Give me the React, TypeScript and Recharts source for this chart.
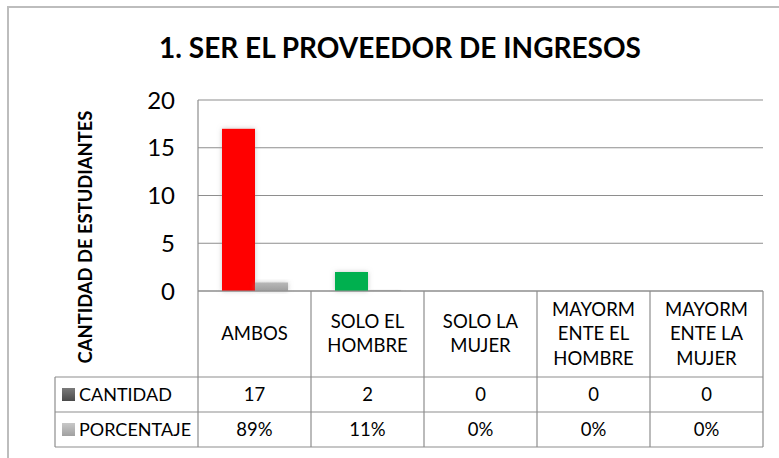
import React from "react";
import { BarChart, Bar, XAxis, YAxis, CartesianGrid, Cell } from "recharts";

// ---- data ----
const title = "1. SER EL PROVEEDOR DE INGRESOS";
const yAxisTitle = "CANTIDAD DE ESTUDIANTES";
const categories = ["AMBOS", "SOLO EL HOMBRE", "SOLO LA MUJER", "MAYORMENTE EL HOMBRE", "MAYORMENTE LA MUJER"];
const categoryLines = [
  ["AMBOS"],
  ["SOLO EL", "HOMBRE"],
  ["SOLO LA", "MUJER"],
  ["MAYORM", "ENTE EL", "HOMBRE"],
  ["MAYORM", "ENTE LA", "MUJER"],
];
const seriesNames = ["CANTIDAD", "PORCENTAJE"];
const cantidad = [17, 2, 0, 0, 0];
const porcentaje = [0.89, 0.11, 0, 0, 0];
const porcentajeLabels = ["89%", "11%", "0%", "0%", "0%"];
const cantidadColors = ["#FF0000", "#00B050", "#FF0000", "#FF0000", "#FF0000"];
const yTicks = [0, 5, 10, 15, 20];

const data = categories.map((c, i) => ({ name: c, cantidad: cantidad[i], porcentaje: porcentaje[i] }));

// ---- layout ----
const W = 779;
const H = 458;
const PLOT_LEFT = 198;
const PLOT_RIGHT = 763;
const PLOT_TOP = 100;
const PLOT_BOTTOM = 291;
const TABLE_LEFT = 55;
const BAND = (PLOT_RIGHT - PLOT_LEFT) / categories.length;
const HEADER_H = 86;
const ROW_H = 35;
const FONT = "Lato, 'Open Sans', sans-serif";
const LINE = "#8E8E8E";

function CategoryTick(props: any) {
  const { x, y, payload } = props;
  const index: number = props.index ?? payload?.index ?? 0;
  const left = x - BAND / 2;
  const right = x + BAND / 2;
  const top = y;
  const lines = categoryLines[index] || [];
  const lh = 24.5;
  const headerCenter = top + HEADER_H / 2 - 0.5;
  const start = headerCenter - ((lines.length - 1) * lh) / 2;
  const row1 = top + HEADER_H + ROW_H / 2;
  const row2 = top + HEADER_H + ROW_H * 1.5;
  const bottom = top + HEADER_H + ROW_H * 2;
  const textProps = { fontFamily: FONT, fontSize: 18.5, fill: "#000", textAnchor: "middle" as const, dy: "0.36em" };
  return (
    <g>
      <line x1={left} x2={left} y1={top} y2={bottom} stroke={LINE} strokeWidth={1.2} />
      {index === categories.length - 1 && (
        <line x1={right} x2={right} y1={top} y2={bottom} stroke={LINE} strokeWidth={1.2} />
      )}
      {index === 0 && (
        <g>
          <line x1={TABLE_LEFT} x2={PLOT_RIGHT} y1={top + HEADER_H} y2={top + HEADER_H} stroke={LINE} strokeWidth={1.2} />
          <line x1={TABLE_LEFT} x2={PLOT_RIGHT} y1={top + HEADER_H + ROW_H} y2={top + HEADER_H + ROW_H} stroke={LINE} strokeWidth={1.2} />
          <line x1={TABLE_LEFT} x2={PLOT_RIGHT} y1={bottom} y2={bottom} stroke={LINE} strokeWidth={1.2} />
          <line x1={TABLE_LEFT} x2={TABLE_LEFT} y1={top + HEADER_H} y2={bottom} stroke={LINE} strokeWidth={1.2} />
          <rect x={TABLE_LEFT + 7} y={row1 - 6.5} width={13} height={13} fill="url(#legDark)" />
          <rect x={TABLE_LEFT + 7} y={row2 - 6.5} width={13} height={13} fill="url(#legLight)" />
          <text x={TABLE_LEFT + 24} y={row1} dy="0.36em" fontFamily={FONT} fontSize={18} fill="#000">{seriesNames[0]}</text>
          <text x={TABLE_LEFT + 24} y={row2} dy="0.36em" fontFamily={FONT} fontSize={18} fill="#000">{seriesNames[1]}</text>
        </g>
      )}
      {lines.map((l, k) => (
        <text key={k} x={x} y={start + k * lh} {...textProps}>{l}</text>
      ))}
      <text x={x} y={row1} {...textProps}>{cantidad[index]}</text>
      <text x={x} y={row2} {...textProps}>{porcentajeLabels[index]}</text>
    </g>
  );
}

export default function App() {
  return (
    <div style={{ position: "absolute", left: 0, top: 0, width: W, height: H, background: "#fff", overflow: "hidden" }}>
      <svg width={W} height={H} style={{ position: "absolute", left: 0, top: 0 }}>
        <rect x={8} y={7} width={W + 20} height={H + 20} fill="#fff" stroke="#BDBDBD" strokeWidth={2} />
        <text x={400} y={58} textAnchor="middle" fontFamily={FONT} fontWeight={700} fontSize={28} fill="#000">{title}</text>
        <text
          x={85}
          y={237}
          dy="0.36em"
          transform="rotate(-90, 85, 237)"
          textAnchor="middle"
          fontFamily={FONT}
          fontWeight={700}
          fontSize={18.4}
          fill="#000"
        >
          {yAxisTitle}
        </text>
      </svg>
      <div style={{ position: "absolute", left: 0, top: 0 }}>
        <BarChart
          width={W}
          height={H}
          data={data}
          margin={{ top: PLOT_TOP, right: W - PLOT_RIGHT, bottom: 10, left: PLOT_LEFT - 60 }}
          barCategoryGap={24}
          barGap={0}
        >
          <defs>
            <linearGradient id="grayBar" x1="0" y1="0" x2="0" y2="1">
              <stop offset="0%" stopColor="#B8B8B8" />
              <stop offset="100%" stopColor="#9E9E9E" />
            </linearGradient>
            <linearGradient id="legDark" x1="0" y1="0" x2="0" y2="1">
              <stop offset="0%" stopColor="#7A7A7A" />
              <stop offset="100%" stopColor="#4A4A4A" />
            </linearGradient>
            <linearGradient id="legLight" x1="0" y1="0" x2="0" y2="1">
              <stop offset="0%" stopColor="#C8C8C8" />
              <stop offset="100%" stopColor="#A0A0A0" />
            </linearGradient>
            <filter id="glow" x="-30%" y="-30%" width="160%" height="160%">
              <feGaussianBlur in="SourceAlpha" stdDeviation="2.6" result="b" />
              <feFlood floodColor="#9A9A9A" floodOpacity="0.55" />
              <feComposite in2="b" operator="in" result="s" />
              <feMerge>
                <feMergeNode in="s" />
                <feMergeNode in="SourceGraphic" />
              </feMerge>
            </filter>
          </defs>
          <CartesianGrid vertical={false} stroke={LINE} strokeWidth={1.2} />
          <XAxis
            dataKey="name"
            interval={0}
            height={H - PLOT_BOTTOM - 10}
            tickLine={false}
            tickSize={0}
            tickMargin={0}
            axisLine={{ stroke: LINE, strokeWidth: 1.2 }}
            tick={<CategoryTick />}
          />
          <YAxis
            width={60}
            domain={[0, 20]}
            ticks={yTicks}
            interval={0}
            tickLine={false}
            tickSize={0}
            tickMargin={23}
            axisLine={{ stroke: LINE, strokeWidth: 1.2 }}
            tick={{ fill: "#000", fontSize: 24, fontFamily: FONT }}
          />
          <Bar dataKey="cantidad" isAnimationActive={false} style={{ filter: "url(#glow)" }}>
            {data.map((d, i) => (
              <Cell key={i} fill={cantidadColors[i]} />
            ))}
          </Bar>
          <Bar dataKey="porcentaje" fill="url(#grayBar)" isAnimationActive={false} style={{ filter: "url(#glow)" }} />
        </BarChart>
      </div>
    </div>
  );
}
